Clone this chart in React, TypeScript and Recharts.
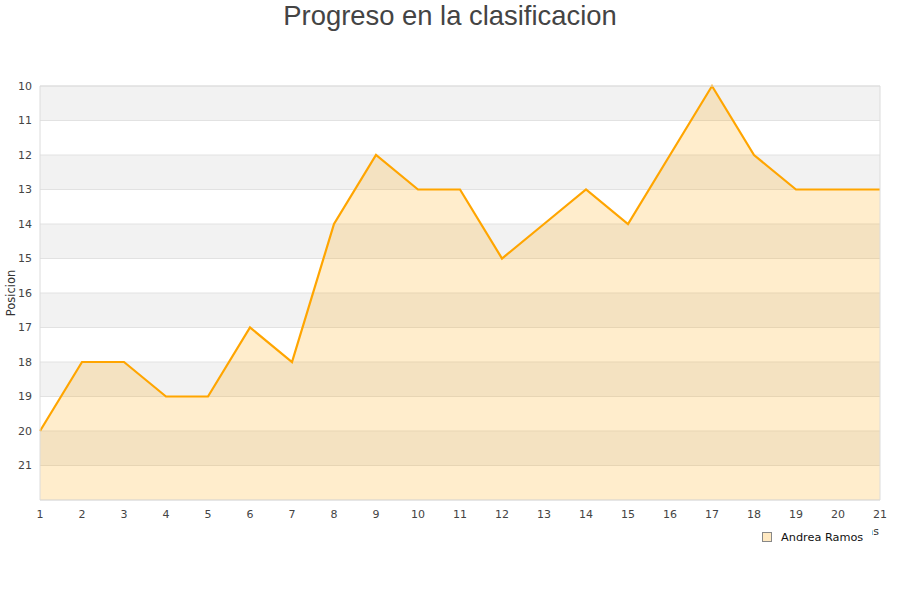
import React from 'react';
import {
    Area, CartesianGrid, ComposedChart, Label, Legend, ReferenceArea, XAxis, YAxis
} from 'recharts';

// Jornada -> posicion en la tabla
const jornadas = [1, 2, 3, 4, 5, 6, 7, 8, 9, 10, 11, 12, 13, 14, 15, 16, 17, 18, 19, 20, 21];
const posiciones = [20, 18, 18, 19, 19, 17, 18, 14, 12, 13, 13, 15, 14, 13, 14, 12, 10, 12, 13, 13, 13];
const posicionTicks = [10, 11, 12, 13, 14, 15, 16, 17, 18, 19, 20, 21];
const serieNombre = 'Andrea Ramos';

const data = jornadas.map((j, i) => ({ jornada: j, posicion: posiciones[i] }));

const ORANGE = '#ffa500';
const TICK_STYLE = { fontFamily: 'DejaVu Sans', fontSize: 11, fill: '#444' };

function LegendBox() {
    return (
        <div style={{ display: 'flex', alignItems: 'center', fontFamily: 'DejaVu Sans', fontSize: 11.3, color: '#111', background: '#fff', height: 20 }}>
            <span style={{ display: 'inline-block', width: 8, height: 8, marginLeft: 7, marginRight: 9, background: '#ffe9c2', border: '1px solid #888' }} />
            <span>{serieNombre}</span>
        </div>
    );
}

export default function App() {
    return (
        <div style={{ position: 'absolute', left: 0, top: 0, width: 900, height: 600, background: '#fff' }}>
            <div style={{ position: 'absolute', top: 2, left: 0, width: 900, textAlign: 'center', fontFamily: 'Liberation Sans, Arial', fontSize: 27.4, lineHeight: 1, color: '#444' }}>
                Progreso en la clasificacion
            </div>
            <ComposedChart width={900} height={600} data={data} margin={{ top: 86, right: 20, bottom: 70, left: 0 }}>
                <CartesianGrid vertical={false} stroke="#e2e2e2" horizontalFill={['#f2f2f2', '#ffffff']} />
                <XAxis
                    dataKey="jornada" type="number" domain={[1, 21]} ticks={jornadas} interval={0}
                    tickLine={false} axisLine={false} tickMargin={4} height={30} tick={TICK_STYLE}
                >
                    <Label
                        content={({ viewBox }: any) => (
                            <text x={viewBox.x + viewBox.width - 1} y={viewBox.y + 35} textAnchor="end"
                                style={{ fontFamily: 'DejaVu Sans', fontSize: 11, fill: '#333' }}>Jornadas</text>
                        )}
                    />
                </XAxis>
                <YAxis
                    type="number" domain={[10, 22]} reversed ticks={posicionTicks} interval={0}
                    tickLine={false} axisLine={false} width={40} tick={TICK_STYLE}
                >
                    <Label value="Posicion" angle={-90} position="insideLeft" offset={0}
                        style={{ fontFamily: 'DejaVu Sans', fontSize: 11.5, fill: '#333', textAnchor: 'middle' }} dx={11} />
                </YAxis>
                <Area
                    type="linear" dataKey="posicion" name={serieNombre} stroke={ORANGE} strokeWidth={2.2}
                    fill={ORANGE} fillOpacity={0.2} baseValue={22} dot={false} activeDot={false}
                    isAnimationActive={false}
                />
                <ReferenceArea x1={1} x2={21} y1={10} y2={22} fill="none" stroke="#dcdcdc" strokeWidth={1} ifOverflow="visible" />
                <Legend
                    layout="horizontal" verticalAlign="middle" align="center"
                    wrapperStyle={{ top: 527, left: 755, width: 117, height: 20 }}
                    content={() => <LegendBox />}
                />
            </ComposedChart>
        </div>
    );
}
